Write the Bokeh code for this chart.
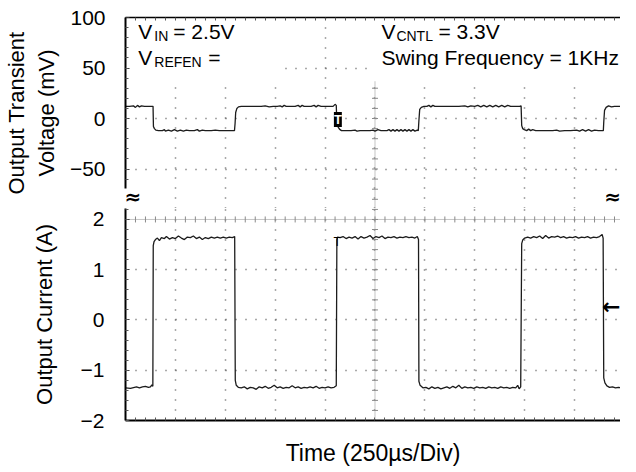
import numpy as np
from bokeh.plotting import figure
from bokeh.layouts import column
from bokeh.models import Range1d, FixedTicker, Label, Span, BoxAnnotation
from bokeh.embed import file_html
from bokeh.resources import INLINE

FONT = "Liberation Sans"

# ---------------- data ----------------
# upper trace: output transient voltage (mV) vs time (us)
t_v = [0, 20, 40, 50, 60, 70, 80, 95, 130, 138, 140, 145, 152, 165, 185, 195, 200, 215, 230,
       245, 260, 275, 290, 305, 320, 345, 360, 370, 385, 400, 430, 450, 470, 500, 530, 546,
       549, 552, 558, 566, 580, 600, 620, 650, 680, 700, 720, 740, 760, 775, 785, 795, 805,
       830, 850, 865, 875, 885, 895, 910, 930, 945, 955, 965, 980, 1000, 1020, 1040, 1050,
       1056, 1059, 1064, 1072, 1082, 1110, 1130, 1150, 1160, 1175, 1200, 1225, 1240, 1250,
       1265, 1280, 1310, 1320, 1330, 1340, 1350, 1360, 1370, 1380, 1390, 1400, 1410, 1420,
       1430, 1440, 1450, 1462, 1467, 1470, 1474, 1482, 1495, 1510, 1520, 1530, 1540, 1550,
       1570, 1600, 1640, 1670, 1700, 1715, 1730, 1750, 1765, 1780, 1795, 1810, 1825, 1840,
       1855, 1870, 1885, 1900, 1915, 1930, 1950, 1975, 1982, 1985, 1990, 1998, 2010, 2020,
       2030, 2040, 2055, 2080, 2110, 2140, 2160, 2175, 2200, 2230, 2260, 2275, 2290, 2305,
       2320, 2335, 2350, 2370, 2390, 2394, 2396, 2400, 2408, 2420, 2435, 2450, 2480]
v_mv = [12, 12, 12.5, 11, 13, 11.5, 12.5, 12, 12, 12, -8, -10, -11.5, -12, -12, -11, -12.5,
        -11.5, -12.5, -11, -12.5, -11.5, -12.5, -11.5, -12, -12, -11, -12.5, -11.5, -12, -12,
        -11.5, -12, -12, -12, -12, -5, 6, 10, 11.5, 12, 12, 12, 12, 12, 12.5, 11.5, 12, 12,
        12.5, 11.5, 13, 12, 12, 12, 13, 11.5, 13, 12, 12, 12, 13, 11.5, 13, 12, 12, 12, 12, 14,
        13, -6, -8, -10.5, -12, -12, -12, -11.5, -12.5, -12, -12, -12, -11.5, -12.5, -11, -12,
        -12, -11, -12.5, -11, -12.5, -11, -12.5, -11, -12.5, -11, -12.5, -11, -12.5, -11,
        -12.5, -11.5, -12, -2, 9, 11, 12, 12, 13, 11.5, 13, 12, 12, 12, 12, 12, 12.5, 11.5,
        12.5, 12, 13, 11.5, 13, 11.5, 13, 11.5, 13, 11.5, 13, 11.5, 13, 12, 12, 12, 12.5, -7,
        -10, -11, -12, -10.5, -12, -11, -12, -12, -12, -12, -11.5, -12.5, -12, -12, -11.5,
        -12.5, -11, -12.5, -11, -12.5, -11.5, -12, -12, -12, -4, 8, 11, 12.5, 11.5, 12, 12]

# lower trace: output current (A) vs time (us)
t_i = [0, 25, 45, 55, 70, 85, 100, 115, 125, 132, 137, 139, 143, 150, 160, 170, 180, 195,
       205, 220, 235, 250, 265, 280, 295, 310, 325, 340, 355, 370, 385, 400, 415, 430, 445,
       460, 475, 490, 505, 520, 535, 547, 550, 555, 565, 580, 595, 610, 625, 640, 655, 670,
       685, 700, 715, 730, 745, 760, 775, 790, 805, 820, 835, 850, 865, 880, 895, 910, 925,
       940, 955, 970, 985, 1000, 1015, 1030, 1045, 1056, 1059, 1063, 1075, 1090, 1105, 1120,
       1135, 1150, 1165, 1180, 1195, 1210, 1225, 1240, 1255, 1270, 1285, 1300, 1315, 1330,
       1345, 1360, 1375, 1390, 1405, 1420, 1435, 1450, 1462, 1468, 1470, 1476, 1490, 1505,
       1520, 1535, 1550, 1565, 1580, 1595, 1610, 1625, 1640, 1655, 1670, 1685, 1700, 1715,
       1730, 1745, 1760, 1775, 1790, 1805, 1820, 1835, 1850, 1865, 1880, 1895, 1910, 1925,
       1940, 1955, 1965, 1972, 1980, 1985, 1990, 2000, 2015, 2030, 2045, 2060, 2075, 2090,
       2105, 2120, 2135, 2150, 2165, 2180, 2195, 2210, 2225, 2240, 2255, 2270, 2285, 2300,
       2315, 2330, 2345, 2360, 2375, 2388, 2393, 2396, 2402, 2412, 2425, 2440, 2455, 2470,
       2480]
i_a = [-1.35, -1.36, -1.34, -1.33, -1.35, -1.33, -1.32, -1.34, -1.33, -1.29, -1.32, 1.48,
       1.56, 1.6, 1.63, 1.58, 1.64, 1.62, 1.66, 1.61, 1.64, 1.62, 1.67, 1.63, 1.6, 1.65, 1.64,
       1.67, 1.62, 1.65, 1.6, 1.64, 1.62, 1.65, 1.63, 1.65, 1.63, 1.65, 1.63, 1.65, 1.64, 1.66,
       -1.2, -1.3, -1.34, -1.35, -1.33, -1.37, -1.34, -1.35, -1.38, -1.33, -1.35, -1.32, -1.36,
       -1.34, -1.3, -1.35, -1.33, -1.36, -1.34, -1.35, -1.31, -1.35, -1.33, -1.36, -1.34,
       -1.35, -1.33, -1.35, -1.32, -1.36, -1.34, -1.35, -1.33, -1.35, -1.34, -1.31, 1.6, 1.65,
       1.64, 1.66, 1.62, 1.65, 1.63, 1.66, 1.61, 1.66, 1.63, 1.65, 1.68, 1.62, 1.66, 1.64,
       1.67, 1.62, 1.65, 1.64, 1.66, 1.63, 1.65, 1.64, 1.66, 1.64, 1.65, 1.63, 1.66, 1.6,
       -1.22, -1.3, -1.35, -1.34, -1.37, -1.33, -1.36, -1.34, -1.37, -1.35, -1.33, -1.36,
       -1.32, -1.35, -1.3, -1.36, -1.33, -1.35, -1.34, -1.36, -1.33, -1.35, -1.34, -1.36,
       -1.33, -1.35, -1.34, -1.36, -1.33, -1.35, -1.34, -1.36, -1.34, -1.35, -1.3, -1.37,
       -1.33, 1.52, 1.59, 1.63, 1.65, 1.63, 1.66, 1.64, 1.67, 1.62, 1.68, 1.63, 1.66, 1.65,
       1.67, 1.64, 1.66, 1.63, 1.65, 1.64, 1.66, 1.63, 1.65, 1.64, 1.66, 1.63, 1.65, 1.64,
       1.66, 1.7, 1.63, -1.15, -1.25, -1.31, -1.34, -1.33, -1.35, -1.34, -1.35]

# axes / ticks
mv_ticks = [-50, 0, 50, 100]
mv_grid = [-50, 0, 50]
a_ticks = [-2, -1, 0, 1, 2]
a_grid = [-1, 0, 1]
div_us = 250            # 250 us per division
x_max_us = 2480
x_center_us = 1250
mv_range = (-89.1, 100)     # upper panel incl. the axis break area
mv_axis_bottom = -69.3       # where the mV axis line stops
a_range = (-2, 2.218)
break_mv = -78.2             # vertical position of the axis-break marks

div_ticks = list(range(0, 2500, div_us))
sub_ticks = list(range(0, 2500, div_us // 5))
grid_ticks = [t for t in div_ticks if t > 0]

GRID_COL = "#555555"
CENTER_COL = "#8a8a8a"
TRACE_COL = "#1c1c1c"


def style_common(p):
    p.background_fill_color = "white"
    p.border_fill_color = "white"
    p.outline_line_color = None
    p.xgrid.ticker = FixedTicker(ticks=grid_ticks)
    p.xgrid.grid_line_color = GRID_COL
    p.xgrid.grid_line_dash = "1 9"
    p.xgrid.grid_line_width = 1.5
    p.ygrid.grid_line_color = GRID_COL
    p.ygrid.grid_line_dash = "1 9"
    p.ygrid.grid_line_width = 1.5


def style_axis(ax, width=2):
    ax.axis_line_color = "black"
    ax.axis_line_width = width
    ax.major_tick_in = 4
    ax.major_tick_out = 0
    ax.minor_tick_in = 3
    ax.minor_tick_out = 0
    ax.major_tick_line_color = "#333333"
    ax.minor_tick_line_color = "#555555"
    ax.major_label_text_font = FONT
    ax.major_label_text_font_size = "21px"
    ax.major_label_text_color = "black"
    ax.axis_label_text_font = FONT
    ax.axis_label_text_font_size = "22px"
    ax.axis_label_text_font_style = "normal"
    ax.axis_label_text_color = "black"


def lab(p, x, y, text, size, dx=0, **kw):
    kw.setdefault("text_font", FONT)
    kw.setdefault("text_color", "black")
    p.add_layout(Label(x=x, y=y, x_offset=dx, text=text, text_font_size=f"{size}px", **kw))


# ---------------- upper panel ----------------
up = figure(width=620, height=208, x_range=Range1d(0, x_max_us), y_range=Range1d(*mv_range),
            x_axis_location="above", toolbar_location=None, output_backend="svg", title=None,
            min_border_left=119, min_border_right=0, min_border_top=17, min_border_bottom=0)
style_common(up)
up.ygrid.ticker = FixedTicker(ticks=mv_grid)

xa = up.xaxis[0]
style_axis(xa, 1.5)
xa.ticker = FixedTicker(ticks=[], minor_ticks=sub_ticks)
xa.minor_tick_in = 3

ya = up.yaxis[0]
style_axis(ya)
ya.ticker = FixedTicker(ticks=mv_ticks, minor_ticks=list(range(-60, 100, 10)))
ya.bounds = (mv_axis_bottom, mv_ticks[-1])
ya.major_label_standoff = 20
ya.axis_label = "Output Transient\nVoltage (mV)"
ya.axis_label_standoff = 8

# scope centre line (vertical)
up.add_layout(Span(location=x_center_us, dimension="height", line_color=CENTER_COL,
                   line_dash="1 1", line_width=1, level="underlay"))
# white text panels of the scope
up.add_layout(BoxAnnotation(left=0, right=790, bottom=34, top=100, fill_color="white",
                            fill_alpha=1, line_color=None, level="underlay"))
up.add_layout(BoxAnnotation(left=1225, bottom=37, top=100, fill_color="white",
                            fill_alpha=1, line_color=None, level="underlay"))
up.scatter(x=[x_center_us] * 12, y=list(range(-80, 40, 10)), marker="dash", size=6,
           line_color=CENTER_COL)

up.line(t_v, v_mv, line_color=TRACE_COL, line_width=1.3)

# trigger marker
lab(up, 1064, -1, "T", 13, text_align="center", text_baseline="middle",
    text_font_style="bold", text_color="white", background_fill_color="black")

# annotations
lab(up, 64, 75.2, "V", 21)
lab(up, 64, 73.6, "IN", 14, dx=16)
lab(up, 64, 75.2, "= 2.5V", 21, dx=35)
lab(up, 64, 49.2, "V", 21)
lab(up, 64, 47.6, "REFEN", 14, dx=16)
lab(up, 64, 49.2, "=", 21, dx=70)
lab(up, 1282, 75.2, "V", 21)
lab(up, 1282, 73.6, "CNTL", 14, dx=15)
lab(up, 1282, 75.2, "= 3.3V", 21, dx=57)
lab(up, 1282, 49.2, "Swing Frequency = 1KHz", 21)

# axis-break marks
lab(up, 0, break_mv, "\u2248", 20, dx=-1, text_align="left", text_baseline="middle",
    text_font="DejaVu Sans", text_font_style="bold")
lab(up, 2440, break_mv, "\u2248", 20, text_align="center", text_baseline="middle",
    text_font="DejaVu Sans", text_font_style="bold")

# ---------------- lower panel ----------------
lo = figure(width=620, height=260, x_range=up.x_range, y_range=Range1d(*a_range),
            toolbar_location=None, output_backend="svg", title=None,
            min_border_left=119, min_border_right=0, min_border_top=0, min_border_bottom=47)
style_common(lo)
lo.ygrid.ticker = FixedTicker(ticks=a_grid)

bx = lo.xaxis[0]
style_axis(bx, 2)
bx.ticker = FixedTicker(ticks=[], minor_ticks=sub_ticks)
bx.minor_tick_in = 3
bx.axis_label = "Time (250\u00b5s/Div)"
bx.axis_label_text_font_size = "23px"
bx.axis_label_standoff = 19

la = lo.yaxis[0]
style_axis(la)
la.ticker = FixedTicker(ticks=a_ticks, minor_ticks=[round(v, 1) for v in np.arange(-2, 2.21, 0.2)])
la.major_label_standoff = 21
la.axis_label = "Output Current (A)"
la.axis_label_standoff = 21

# scope centre lines
lo.add_layout(Span(location=x_center_us, dimension="height", line_color=CENTER_COL,
                   line_dash="1 1", line_width=1, level="underlay"))
lo.add_layout(Span(location=a_ticks[-1], dimension="width", line_color=CENTER_COL,
                   line_dash="1 1", line_width=1, level="underlay"))
lo.scatter(x=[x_center_us] * 21, y=[round(v, 1) for v in np.arange(-1.8, 2.3, 0.2)],
           marker="dash", size=6, line_color=CENTER_COL)
lo.scatter(x=sub_ticks[1:], y=[a_ticks[-1]] * (len(sub_ticks) - 1), marker="dash",
           angle=np.pi / 2, size=6, line_color=CENTER_COL)

lo.line(t_i, i_a, line_color=TRACE_COL, line_width=1.3)

lab(lo, 1060, 1.56, "T", 12, text_align="center", text_baseline="middle")
lab(lo, x_max_us, 0.26, "\u2190", 22, text_align="right", text_baseline="middle",
    text_font="DejaVu Sans", text_font_style="bold")

layout = column(up, lo, spacing=0)
open("out.html", "w").write(file_html(layout, INLINE))
